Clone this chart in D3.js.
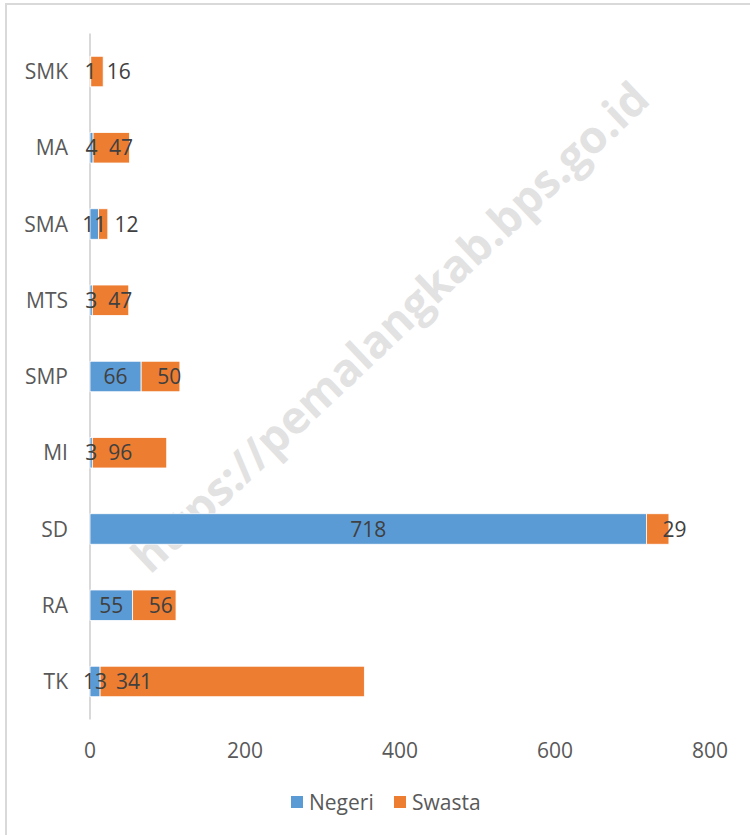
<!DOCTYPE html>
<html>
<head>
    <title>Sekolah Negeri dan Swasta</title>
    <script src="https://d3js.org/d3.v7.min.js"></script>
    <style>
        body { margin: 0; background: #fff; }
        text { font-family: 'Open Sans', 'Noto Sans', sans-serif; }
    </style>
</head>
<body>

<script>
// data, top to bottom
const categories = ['SMK', 'MA', 'SMA', 'MTS', 'SMP', 'MI', 'SD', 'RA', 'TK'];
const negeri = [1, 4, 11, 3, 66, 3, 718, 55, 13];
const swasta = [16, 47, 12, 47, 50, 96, 29, 56, 341];
const xTicks = [0, 200, 400, 600, 800];
const seriesNames = ['Negeri', 'Swasta'];

const width = 750, height = 835;

const svg = d3.select('body')
    .append('svg')
    .attr('width', width)
    .attr('height', height);

// outer chart frame
svg.append('rect')
    .attr('x', 6).attr('y', 4)
    .attr('width', 800).attr('height', 900)
    .attr('fill', '#fff')
    .attr('stroke', '#d9d9d9')
    .attr('stroke-width', 2);

// watermark sits behind the bars
const wm = svg.append('text')
    .attr('transform', 'translate(389,326) rotate(-43.3)')
    .attr('text-anchor', 'middle')
    .attr('dominant-baseline', 'central')
    .attr('font-weight', 'bold')
    .attr('font-size', 40)
    .attr('fill', '#e2e2e2')
    .text('https://pemalangkab.bps.go.id');
const wmLen = wm.node().getComputedTextLength();
wm.attr('font-size', 40 * 690 / wmLen);

const x = d3.scaleLinear().domain([0, 800]).range([90, 710]);
const y = d3.scaleBand().domain(categories).range([33.4, 719.6]).paddingInner(0.6).paddingOuter(0.3);

const rows = categories.map((c, i) => ({ cat: c, neg: negeri[i], swa: swasta[i] }));
const stack = d3.stack().keys(['neg', 'swa'])(rows);
const colors = ['#5b9bd5', '#ed7d31'];

// category axis line
svg.append('line')
    .attr('x1', x(0)).attr('x2', x(0))
    .attr('y1', 33.4).attr('y2', 719.6)
    .attr('stroke', '#d9d9d9')
    .attr('stroke-width', 2);

// stacked bars
svg.selectAll('g.series')
    .data(stack)
    .enter()
    .append('g')
    .attr('class', 'series')
    .attr('fill', (d, i) => colors[i])
    .selectAll('rect')
    .data(d => d)
    .enter()
    .append('rect')
    .attr('x', d => x(d[0]))
    .attr('y', d => y(d.data.cat))
    .attr('width', d => x(d[1]) - x(d[0]))
    .attr('height', y.bandwidth())
    .attr('stroke', '#fff')
    .attr('stroke-width', 0.8);

// category labels
svg.selectAll('text.cat')
    .data(categories)
    .enter()
    .append('text')
    .attr('class', 'cat')
    .attr('x', 68)
    .attr('y', d => y(d) + y.bandwidth() / 2)
    .attr('dy', '0.36em')
    .attr('text-anchor', 'end')
    .attr('font-size', 21)
    .attr('fill', '#595959')
    .text(d => d);

// x tick labels
svg.selectAll('text.tick')
    .data(xTicks)
    .enter()
    .append('text')
    .attr('class', 'tick')
    .attr('x', d => x(d))
    .attr('y', 750)
    .attr('dy', '0.36em')
    .attr('text-anchor', 'middle')
    .attr('font-size', 21)
    .attr('fill', '#595959')
    .text(d => d);

// data labels: Negeri centred, Swasta at inside base
svg.selectAll('text.lblN')
    .data(stack[0])
    .enter()
    .append('text')
    .attr('class', 'lblN')
    .attr('x', d => (x(d[0]) + x(d[1])) / 2)
    .attr('y', d => y(d.data.cat) + y.bandwidth() / 2)
    .attr('dy', '0.36em')
    .attr('text-anchor', 'middle')
    .attr('font-size', 21)
    .attr('fill', '#404040')
    .text(d => d.data.neg);

svg.selectAll('text.lblS')
    .data(stack[1])
    .enter()
    .append('text')
    .attr('class', 'lblS')
    .attr('x', d => x(d[0]) + 16)
    .attr('y', d => y(d.data.cat) + y.bandwidth() / 2)
    .attr('dy', '0.36em')
    .attr('text-anchor', 'start')
    .attr('font-size', 21)
    .attr('fill', '#404040')
    .text(d => d.data.swa);

// legend
const legendX = [291, 394];
const legend = svg.selectAll('g.legend')
    .data(seriesNames)
    .enter()
    .append('g')
    .attr('class', 'legend')
    .attr('transform', (d, i) => `translate(${legendX[i]},802)`);

legend.append('rect')
    .attr('x', 0).attr('y', -6)
    .attr('width', 12).attr('height', 12)
    .attr('fill', (d, i) => colors[i]);

legend.append('text')
    .attr('x', 18)
    .attr('dy', '0.36em')
    .attr('font-size', 21)
    .attr('fill', '#595959')
    .text(d => d);
</script>

</body>
</html>
